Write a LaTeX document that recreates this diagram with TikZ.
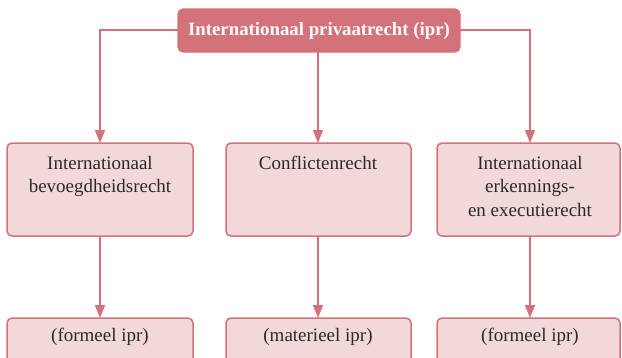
\documentclass[tikz,border=0pt]{standalone}
\usepackage{fontspec}
\setmainfont{Liberation Serif}
\usetikzlibrary{arrows.meta}
\definecolor{rosedark}{HTML}{D4727A}
\definecolor{roselight}{HTML}{F2D8D9}
\definecolor{txt}{HTML}{2A2A2A}
\tikzset{
  topbox/.style={draw=rosedark,fill=rosedark,rounded corners=5pt,line width=1.2pt},
  toptext/.style={text=white,font=\fontsize{18.8}{21}\selectfont\bfseries,inner sep=0pt},
  midbox/.style={draw=rosedark,fill=roselight,rounded corners=5pt,line width=1.5pt},
  boxtext/.style={text=txt,font=\fontsize{19}{23.5}\selectfont,align=center,inner sep=0pt},
  conn/.style={draw=rosedark,line width=1.6pt,-{Triangle[width=10pt,length=13pt]}}
}
\begin{document}
\begin{tikzpicture}[x=1pt,y=-1pt]
\useasboundingbox (0,0) rectangle (622,357);
\clip (0,0) rectangle (622,357);
% top box
\draw[topbox] (178,9) rectangle (460,52);
\node[toptext] (top) at (319,30.5) {Internationaal privaatrecht (ipr)};
\coordinate (tl) at (178,30);
\coordinate (tr) at (460,30);
\coordinate (tb) at (318,52);
% middle boxes
\draw[midbox] (7,143) rectangle (193,236);
\draw[midbox] (226,143) rectangle (411,236);
\draw[midbox] (437,143) rectangle (620,236);
\coordinate (m1t) at (100,143); \coordinate (m1b) at (100,236);
\coordinate (m2t) at (318,143); \coordinate (m2b) at (318,236);
\coordinate (m3t) at (530,143); \coordinate (m3b) at (530,236);
\node[boxtext,anchor=north] (m1) at (100,156) {Internationaal\\bevoegdheidsrecht};
\node[boxtext,anchor=north] (m2) at (318,156) {Conflictenrecht};
\node[boxtext,anchor=north] (m3) at (530,156) {Internationaal\\erkennings-\\en executierecht};
% bottom boxes
\draw[midbox] (7,318) rectangle (193,380);
\draw[midbox] (226,318) rectangle (411,380);
\draw[midbox] (437,318) rectangle (620,380);
\coordinate (b1t) at (100,318);
\coordinate (b2t) at (318,318);
\coordinate (b3t) at (530,318);
\node[boxtext] (b1) at (100,337) {(formeel ipr)};
\node[boxtext] (b2) at (318,337) {(materieel ipr)};
\node[boxtext] (b3) at (530,337) {(formeel ipr)};
% connectors
\draw[conn] (tl) -| (m1t);
\draw[conn] (tb) -- (m2t);
\draw[conn] (tr) -| (m3t);
\draw[conn] (m1b) -- (b1t);
\draw[conn] (m2b) -- (b2t);
\draw[conn] (m3b) -- (b3t);
\end{tikzpicture}
\end{document}
